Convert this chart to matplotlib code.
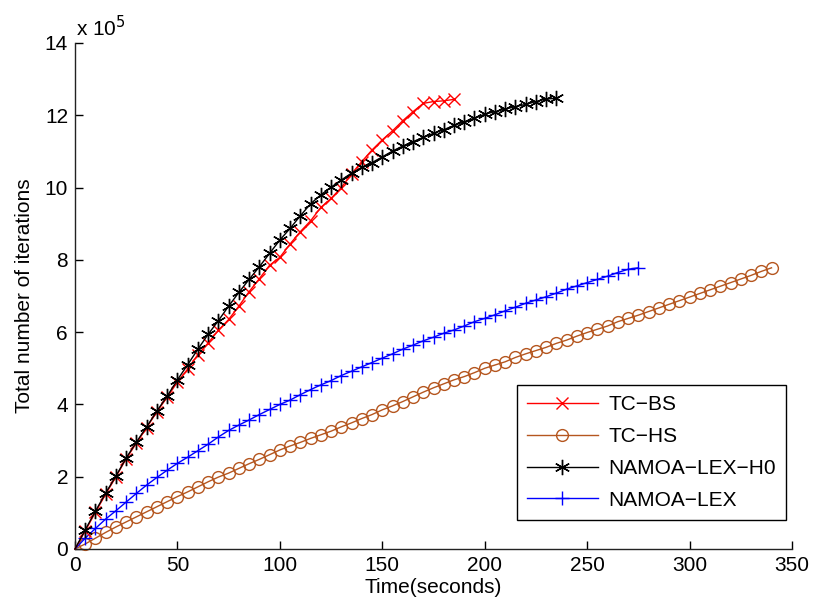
import matplotlib
matplotlib.use("Agg")
import matplotlib.pyplot as plt
import numpy as np

plt.rcParams['font.family'] = ['Liberation Sans', 'DejaVu Sans']

# Time (seconds) sampled every 5 s; values in units of 1e5 iterations
t_bs = list(range(0, 186, 5))
tc_bs = [0, 0.50, 1.02, 1.52, 2.00, 2.50, 2.93, 3.36, 3.80, 4.20,
         4.62, 4.98, 5.38, 5.70, 6.05, 6.35, 6.72, 7.12, 7.48, 7.85,
         8.07, 8.44, 8.78, 9.08, 9.45, 9.70, 10.00, 10.38, 10.72, 11.04,
         11.32, 11.57, 11.85, 12.10, 12.33, 12.38, 12.40, 12.44]

t_hs = list(range(0, 341, 5))
tc_hs = [0, 0.14, 0.30, 0.46, 0.61, 0.75, 0.89, 1.03, 1.17, 1.31,
         1.45, 1.58, 1.72, 1.86, 1.99, 2.10, 2.23, 2.36, 2.48, 2.61,
         2.74, 2.85, 2.95, 3.06, 3.16, 3.26, 3.38, 3.49, 3.61, 3.72,
         3.85, 3.96, 4.08, 4.21, 4.34, 4.46, 4.57, 4.68, 4.77, 4.88,
         5.00, 5.09, 5.18, 5.30, 5.40, 5.49, 5.58, 5.69, 5.78, 5.89,
         5.99, 6.08, 6.17, 6.29, 6.38, 6.47, 6.57, 6.67, 6.77, 6.87,
         6.97, 7.07, 7.17, 7.27, 7.37, 7.47, 7.57, 7.68, 7.78]

t_h0 = list(range(0, 236, 5))
namoa_h0 = [0, 0.53, 1.05, 1.55, 2.02, 2.52, 2.96, 3.38, 3.82, 4.23,
            4.68, 5.10, 5.53, 5.94, 6.32, 6.72, 7.10, 7.46, 7.81, 8.18,
            8.55, 8.87, 9.22, 9.55, 9.80, 10.01, 10.21, 10.40, 10.56, 10.69,
            10.85, 11.01, 11.15, 11.27, 11.39, 11.50, 11.60, 11.72, 11.82, 11.92,
            12.03, 12.10, 12.17, 12.24, 12.30, 12.38, 12.45, 12.47]

t_lex = list(range(0, 276, 5))
namoa_lex = [0, 0.30, 0.57, 0.83, 1.06, 1.30, 1.54, 1.77, 1.98, 2.18,
             2.37, 2.54, 2.72, 2.90, 3.10, 3.28, 3.43, 3.57, 3.72, 3.86,
             4.00, 4.12, 4.27, 4.41, 4.54, 4.66, 4.80, 4.92, 5.04, 5.16,
             5.28, 5.40, 5.53, 5.64, 5.76, 5.86, 5.97, 6.06, 6.17, 6.29,
             6.38, 6.48, 6.59, 6.69, 6.80, 6.89, 6.98, 7.08, 7.19, 7.28,
             7.37, 7.46, 7.55, 7.65, 7.74, 7.78]

labels = ['TC\u2212BS', 'TC\u2212HS', 'NAMOA\u2212LEX\u2212H0', 'NAMOA\u2212LEX']
x_ticks = [0, 50, 100, 150, 200, 250, 300, 350]
y_ticks = [0, 2, 4, 6, 8, 10, 12, 14]

FS = 15
fig = plt.figure(figsize=(8.13, 6.10), dpi=100)
ax = fig.add_axes([75/813, 61/610, 717/813, 506/610])

brown = '#b5561f'
asterisk = (6, 2, 0)
ax.plot(t_bs, tc_bs, color='red', lw=1.0, marker='x', ms=8, mew=1.0,
        markevery=slice(1, None), label=labels[0], clip_on=False, zorder=3)
ax.plot(t_hs, tc_hs, color=brown, lw=1.0, marker='o', ms=8.5, mew=1.0,
        mfc='none', mec=brown, markevery=slice(1, None), label=labels[1], clip_on=False, zorder=2)
ax.plot(t_h0, namoa_h0, color='black', lw=1.0, marker=asterisk, ms=11, mew=1.0,
        markevery=slice(1, None), label=labels[2], clip_on=False, zorder=4)
ax.plot(t_lex, namoa_lex, color='blue', lw=1.0, marker='+', ms=10, mew=1.0,
        markevery=slice(1, None), label=labels[3], clip_on=False, zorder=2)

ax.set_xlim(0, 350)
ax.set_ylim(0, 14)
ax.set_xticks(x_ticks)
ax.set_yticks(y_ticks)
ax.set_xticklabels([str(v) for v in x_ticks])
ax.set_yticklabels([str(v) for v in y_ticks])
ax.tick_params(direction='in', length=6, width=1.0, labelsize=FS, pad=5, colors='black')
for s in ['top', 'right']:
    ax.spines[s].set_visible(False)
for s in ['left', 'bottom']:
    ax.spines[s].set_linewidth(1.0)
    ax.spines[s].set_color('#222222')

ax.set_xlabel('Time(seconds)', fontsize=FS, labelpad=2)
ax.set_ylabel('Total number of iterations', fontsize=FS, labelpad=8)
ax.annotate('x 10$^{5}$', xy=(0, 1), xycoords='axes fraction', xytext=(1, 2),
            textcoords='offset points', fontsize=FS, ha='left', va='bottom')

leg = ax.legend(loc='lower right', bbox_to_anchor=(0.992, 0.057), borderaxespad=0,
                fontsize=FS, fancybox=False, framealpha=1, edgecolor='black',
                handlelength=3.4, handletextpad=0.5, labelspacing=0.62,
                borderpad=0.5, handleheight=0.7)
leg.get_frame().set_linewidth(1.0)

fig.savefig('out.png', dpi=100)
